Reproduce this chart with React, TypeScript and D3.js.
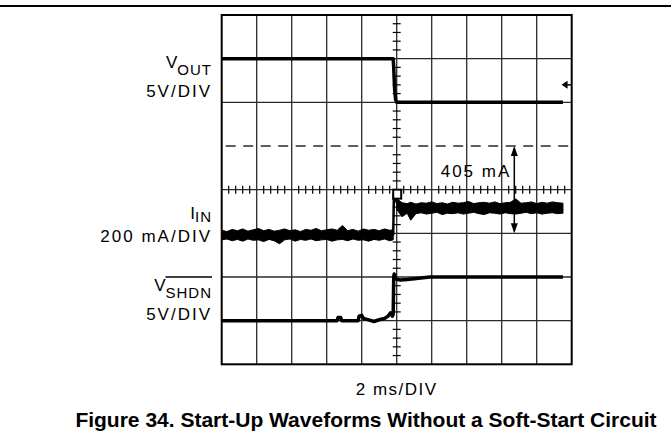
import { useEffect, useRef } from 'react';
import * as d3 from 'd3';

const WIDTH = 671;
const HEIGHT = 442;

// Scope screen: 10 time divisions of 2 ms, 8 vertical divisions
const timeDomain = [0, 20];
const divDomain = [-4, 4];
const timeGrid = d3.range(0, 21, 2);
const divGrid = d3.range(-4, 5, 1);
const dashedDiv = 1;

// V_OUT trace (ms, divisions)
const voutTime = [0, 9.8, 9.83, 9.88, 9.94, 10.0, 19.5];
const voutDiv = [3, 3, 2.8, 2.3, 2.06, 2.0, 2.0];
const voutRefDiv = 2.4;

// I_IN trace envelope before the step
const iinPreTime = [0, 0.3, 0.6, 0.9, 1.2, 1.5, 1.8, 2.1, 2.4, 2.7, 3.0, 3.3, 3.6, 3.9, 4.2, 4.5, 4.8, 5.1, 5.4, 5.7, 6.0, 6.3, 6.6, 6.9, 7.2, 7.5, 7.8, 8.1, 8.4, 8.7, 9.0, 9.3, 9.6, 9.8];
const iinPreHigh = [-0.93, -0.96, -0.91, -0.94, -0.9, -0.95, -0.92, -0.89, -0.94, -0.91, -0.95, -0.93, -0.9, -0.94, -0.92, -0.96, -0.91, -0.93, -0.89, -0.94, -0.92, -0.9, -0.93, -0.82, -0.94, -0.91, -0.95, -0.9, -0.93, -0.91, -0.94, -0.9, -0.93, -0.92];
const iinPreLow = [-1.15, -1.13, -1.17, -1.14, -1.18, -1.13, -1.16, -1.15, -1.19, -1.14, -1.17, -1.24, -1.15, -1.13, -1.18, -1.14, -1.16, -1.13, -1.17, -1.15, -1.14, -1.18, -1.15, -1.14, -1.17, -1.13, -1.16, -1.15, -1.18, -1.14, -1.16, -1.13, -1.17, -1.15];

// I_IN rising edge
const iinEdgeTime = [9.8, 9.84, 9.87, 10.0];
const iinEdgeDiv = [-1.05, -0.1, -0.05, -0.3];

// I_IN trace envelope after the step
const iinPostTime = [10.0, 10.3, 10.6, 10.8, 11.1, 11.4, 11.7, 12.0, 12.3, 12.6, 12.9, 13.2, 13.5, 13.8, 14.1, 14.4, 14.7, 15.0, 15.3, 15.6, 15.9, 16.2, 16.5, 16.8, 17.1, 17.4, 17.7, 18.0, 18.3, 18.6, 18.9, 19.2, 19.5];
const iinPostHigh = [-0.2, -0.3, -0.32, -0.29, -0.33, -0.3, -0.31, -0.28, -0.32, -0.3, -0.33, -0.29, -0.31, -0.3, -0.27, -0.32, -0.3, -0.29, -0.31, -0.28, -0.32, -0.3, -0.29, -0.21, -0.31, -0.3, -0.28, -0.32, -0.29, -0.31, -0.28, -0.3, -0.31];
const iinPostLow = [-0.45, -0.62, -0.54, -0.7, -0.55, -0.53, -0.56, -0.54, -0.52, -0.57, -0.54, -0.55, -0.53, -0.56, -0.54, -0.52, -0.55, -0.57, -0.53, -0.54, -0.56, -0.53, -0.55, -0.56, -0.54, -0.52, -0.55, -0.53, -0.56, -0.54, -0.53, -0.55, -0.54];

// V_SHDN trace
const vshdnTime = [0, 6.6, 6.65, 6.8, 6.85, 7.8, 7.85, 8.0, 8.1, 8.3, 8.7, 9.0, 9.3, 9.5, 9.65, 9.75, 9.8, 9.83, 9.86, 9.95, 10.2, 10.6, 11.0, 11.9, 19.5];
const vshdnDiv = [-3, -3, -2.93, -2.93, -3, -3, -2.9, -2.88, -2.95, -2.97, -3.02, -2.98, -2.95, -2.9, -2.82, -2.9, -2.85, -2.0, -1.93, -2.05, -2.07, -2.06, -2.04, -2.0, -2.0];

// 405 mA annotation
const deltaLabel = '405 mA';
const deltaTime = 16.72;
const deltaRange = [1, -1];

// channel labels
const channelNames = ['V', 'I', 'V'];
const channelSubs = ['OUT', 'IN', 'SHDN'];
const channelScales = ['5V/DIV', '200 mA/DIV', '5V/DIV'];
const timeScaleLabel = '2 ms/DIV';
const title = 'Figure 34. Start-Up Waveforms Without a Soft-Start Circuit';

export default function App() {
  const svgRef = useRef<SVGSVGElement>(null);

  useEffect(() => {
    if (!svgRef.current) return;
    const svg = d3.select(svgRef.current);
    svg.selectAll('*').remove();

    const x = d3.scaleLinear().domain(timeDomain).range([221.7, 571.7]);
    const y = d3.scaleLinear().domain(divDomain).range([364.3, 15]);
    const font = '"Liberation Sans", Arial, sans-serif';

    // rule across the top of the page
    svg.append('line')
      .attr('x1', 0).attr('x2', WIDTH)
      .attr('y1', 6).attr('y2', 6)
      .attr('stroke', '#000').attr('stroke-width', 2);

    // grid
    const grid = svg.append('g');
    grid.selectAll('.vgrid')
      .data(timeGrid.slice(1, -1))
      .join('line')
      .attr('x1', d => x(d)).attr('x2', d => x(d))
      .attr('y1', y(4)).attr('y2', y(-4))
      .attr('stroke', '#2a2a2a').attr('stroke-width', 1.3);

    grid.selectAll('.hgrid')
      .data(divGrid.slice(1, -1))
      .join('line')
      .attr('x1', x(0)).attr('x2', x(20))
      .attr('y1', d => y(d)).attr('y2', d => y(d))
      .attr('stroke', '#2a2a2a').attr('stroke-width', 1.3)
      .attr('stroke-dasharray', d => (d === dashedDiv ? '10,7.5' : null))
      .attr('stroke-dashoffset', -4);

    grid.append('rect')
      .attr('x', x(0)).attr('y', y(4))
      .attr('width', x(20) - x(0)).attr('height', y(-4) - y(4))
      .attr('fill', 'none').attr('stroke', '#000').attr('stroke-width', 2);

    // minor ticks on the centre lines
    const hMinor = d3.range(0, 51).filter(i => i % 5 !== 0).map(i => i * 0.4);
    grid.selectAll('.hminor')
      .data(hMinor)
      .join('line')
      .attr('x1', d => x(d)).attr('x2', d => x(d))
      .attr('y1', y(0) - 4).attr('y2', y(0) + 4)
      .attr('stroke', '#000').attr('stroke-width', 1.2);

    const vMinor = d3.range(0, 41).filter(i => i % 5 !== 0).map(i => i * 0.2 - 4);
    grid.selectAll('.vminor')
      .data(vMinor)
      .join('line')
      .attr('x1', x(10) - 4).attr('x2', x(10) + 4)
      .attr('y1', d => y(d)).attr('y2', d => y(d))
      .attr('stroke', '#000').attr('stroke-width', 1.2);

    // traces
    const line = d3.line<[number, number]>()
      .x(d => x(d[0]))
      .y(d => y(d[1]));

    const band = d3.area<[number, number, number]>()
      .x(d => x(d[0]))
      .y0(d => y(d[2]))
      .y1(d => y(d[1]));

    const traces = svg.append('g');

    traces.append('path')
      .attr('d', line(d3.zip(voutTime, voutDiv) as [number, number][]))
      .attr('fill', 'none').attr('stroke', '#000')
      .attr('stroke-width', 3.5).attr('stroke-linejoin', 'round');

    [
      d3.zip(iinPreTime, iinPreHigh, iinPreLow),
      d3.zip(iinPostTime, iinPostHigh, iinPostLow)
    ].forEach(seg => {
      traces.append('path')
        .attr('d', band(seg as [number, number, number][]))
        .attr('fill', '#000').attr('stroke', '#000').attr('stroke-width', 1);
    });

    traces.append('path')
      .attr('d', line(d3.zip(iinEdgeTime, iinEdgeDiv) as [number, number][]))
      .attr('fill', 'none').attr('stroke', '#000').attr('stroke-width', 2.5);

    traces.append('path')
      .attr('d', line(d3.zip(vshdnTime, vshdnDiv) as [number, number][]))
      .attr('fill', 'none').attr('stroke', '#000')
      .attr('stroke-width', 3.5).attr('stroke-linejoin', 'round');

    // trigger marker square
    traces.append('rect')
      .attr('x', x(9.8)).attr('y', y(0))
      .attr('width', 8).attr('height', 9)
      .attr('fill', '#fff').attr('stroke', '#000').attr('stroke-width', 2);

    // V_OUT reference marker
    const refY = y(voutRefDiv);
    svg.append('line')
      .attr('x1', x(19.5)).attr('x2', x(20))
      .attr('y1', refY).attr('y2', refY)
      .attr('stroke', '#000').attr('stroke-width', 1.5);
    svg.append('path')
      .attr('d', `M${x(19.42)},${refY}L${x(19.42) + 6},${refY - 4}L${x(19.42) + 6},${refY + 4}Z`)
      .attr('fill', '#000');

    // 405 mA double arrow
    const ax = x(deltaTime);
    const ay1 = y(deltaRange[0]);
    const ay2 = y(deltaRange[1]);
    svg.append('line')
      .attr('x1', ax).attr('x2', ax)
      .attr('y1', ay1 + 2).attr('y2', ay2 - 2)
      .attr('stroke', '#000').attr('stroke-width', 1.5);
    svg.append('path')
      .attr('d', `M${ax},${ay1}L${ax - 3.5},${ay1 + 10}L${ax + 3.5},${ay1 + 10}Z`)
      .attr('fill', '#000');
    svg.append('path')
      .attr('d', `M${ax},${ay2}L${ax - 3.5},${ay2 - 10}L${ax + 3.5},${ay2 - 10}Z`)
      .attr('fill', '#000');
    svg.append('text')
      .attr('x', ax - 3).attr('y', 177)
      .attr('text-anchor', 'end')
      .style('font-family', font).style('font-size', '17px')
      .style('letter-spacing', '2px')
      .text(deltaLabel);

    // channel labels
    const nameBase = [68, 219, 291];
    const subShift = [7, 3, 7];
    const scaleBase = [97, 242, 320];
    channelNames.forEach((name, i) => {
      const t = svg.append('text')
        .attr('x', 212).attr('y', nameBase[i])
        .attr('text-anchor', 'end')
        .style('font-family', font).style('font-size', '17px');
      t.append('tspan').text(name);
      const sub = t.append('tspan')
        .attr('dy', subShift[i])
        .style('font-size', '15px')
        .style('letter-spacing', '1px')
        .text(channelSubs[i]);
      if (channelSubs[i] === 'SHDN') {
        const box = (t.node() as SVGTextElement).getBBox();
        const len = (sub.node() as SVGTSpanElement).getComputedTextLength();
        const right = box.x + box.width;
        svg.append('line')
          .attr('x1', right - len).attr('x2', right)
          .attr('y1', box.y + 1).attr('y2', box.y + 1)
          .attr('stroke', '#000').attr('stroke-width', 1.3);
      }
      svg.append('text')
        .attr('x', 212).attr('y', scaleBase[i])
        .attr('text-anchor', 'end')
        .style('font-family', font).style('font-size', '17px')
        .style('letter-spacing', '2px')
        .text(channelScales[i]);
    });

    svg.append('text')
      .attr('x', x(10)).attr('y', 395)
      .attr('text-anchor', 'middle')
      .style('font-family', font).style('font-size', '17px')
      .style('letter-spacing', '1.5px')
      .text(timeScaleLabel);

    svg.append('text')
      .attr('x', 366).attr('y', 427)
      .attr('text-anchor', 'middle')
      .style('font-family', font).style('font-size', '21px')
      .style('font-weight', 'bold')
      .text(title);
  }, []);

  return (
    <svg
      ref={svgRef}
      width={WIDTH}
      height={HEIGHT}
      style={{ position: 'absolute', left: 0, top: 0, background: '#fff' }}
    />
  );
}
